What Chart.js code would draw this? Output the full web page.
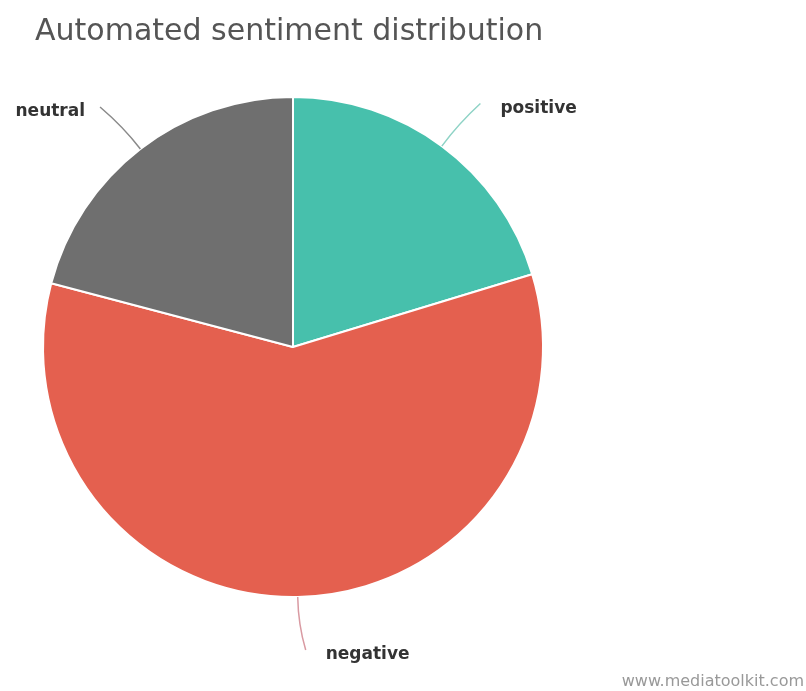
<!DOCTYPE html>
<html>
<head>
<meta charset="utf-8">
<script src="https://cdn.jsdelivr.net/npm/chart.js@4.4.1/dist/chart.umd.min.js"></script>
<style>
  html, body { margin: 0; padding: 0; background: #fff; }
  #wrap { width: 806px; height: 691px; position: relative; }
</style>
</head>
<body>
<div id="wrap"><canvas id="sentimentPie"></canvas></div>
<script>
const chartTitle = 'Automated sentiment distribution';
const creditText = 'www.mediatoolkit.com';
const sentiments = ['positive', 'negative', 'neutral'];
const shares = [20.3, 58.8, 20.9];
const sliceColors = ['#47c0ac', '#e4604f', '#6f6f6f'];
const lineColors = ['#8fd3c6', '#d99aa2', '#8a8a8a'];

// labels + connectors, highcharts style
const outsideLabels = {
    id: 'outsideLabels',
    afterDraw(chart) {
        const ctx = chart.ctx;
        const meta = chart.getDatasetMeta(0);
        ctx.save();

        // title
        ctx.fillStyle = '#555';
        ctx.font = '30px "DejaVu Sans", sans-serif';
        ctx.textBaseline = 'alphabetic';
        ctx.textAlign = 'left';
        ctx.fillText(chartTitle, 35, 40);

        meta.data.forEach((arc, i) => {
            const p = arc.getProps(['x', 'y', 'startAngle', 'endAngle', 'outerRadius'], true);
            const mid = (p.startAngle + p.endAngle) / 2;
            const cos = Math.cos(mid), sin = Math.sin(mid);
            const r = p.outerRadius;
            const sx = p.x + r * cos, sy = p.y + r * sin;
            const d = 53;
            const right = cos >= -0.05;
            const ex = p.x + (r + d) * cos + (right ? 7 : -8);
            const ey = p.y + (r + d) * sin;
            const cx = p.x + (r + 28) * cos, cy = p.y + (r + 28) * sin;

            ctx.strokeStyle = lineColors[i];
            ctx.lineWidth = 1.5;
            ctx.beginPath();
            ctx.moveTo(sx, sy);
            ctx.quadraticCurveTo(cx, cy, ex, ey);
            ctx.stroke();

            ctx.fillStyle = '#333';
            ctx.font = 'bold 17px "DejaVu Sans", sans-serif';
            ctx.textBaseline = 'middle';
            ctx.textAlign = right ? 'left' : 'right';
            ctx.fillText(sentiments[i], right ? ex + 20 : ex - 15, ey + 5);
        });

        ctx.fillStyle = '#999';
        ctx.font = '16px "DejaVu Sans", sans-serif';
        ctx.textAlign = 'right';
        ctx.textBaseline = 'alphabetic';
        ctx.fillText(creditText, 804, 686);
        ctx.restore();
    }
};

new Chart(document.getElementById('sentimentPie'), {
    type: 'pie',
    data: {
        labels: sentiments,
        datasets: [{
            data: shares,
            backgroundColor: sliceColors,
            borderColor: '#ffffff',
            borderWidth: 2
        }]
    },
    options: {
        responsive: true,
        maintainAspectRatio: false,
        animation: false,
        layout: { padding: { left: 42, right: 262, top: 96, bottom: 93 } },
        plugins: {
            legend: { display: false },
            tooltip: { enabled: false }
        }
    },
    plugins: [outsideLabels]
});
</script>
</body>
</html>
